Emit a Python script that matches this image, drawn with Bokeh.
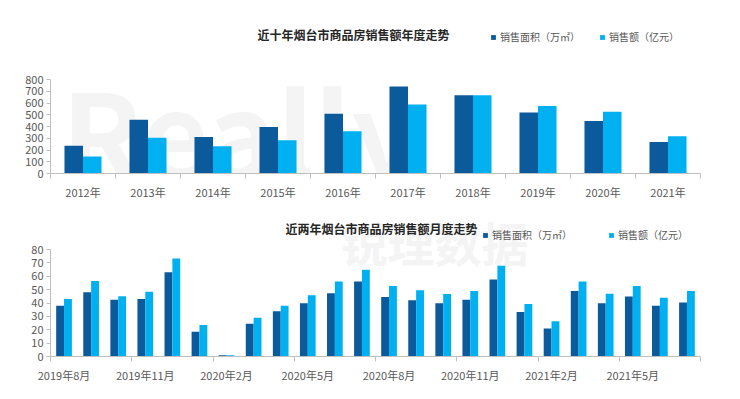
from bokeh.plotting import figure
from bokeh.models import ColumnDataSource, FixedTicker, Label, Legend, LegendItem, Range1d
from bokeh.layouts import column
from bokeh.embed import file_html
from bokeh.resources import INLINE
import numpy as np

# ---------------- data ----------------
years = ["2012年", "2013年", "2014年", "2015年", "2016年",
         "2017年", "2018年", "2019年", "2020年", "2021年"]
area_year = [237, 458, 310, 395, 509, 740, 667, 520, 446, 268]      # 销售面积（万㎡）
amount_year = [144, 305, 231, 282, 359, 588, 667, 574, 526, 316]    # 销售额（亿元）

months = ["2019年8月", "2019年9月", "2019年10月", "2019年11月", "2019年12月",
          "2020年1月", "2020年2月", "2020年3月", "2020年4月", "2020年5月",
          "2020年6月", "2020年7月", "2020年8月", "2020年9月", "2020年10月",
          "2020年11月", "2020年12月", "2021年1月", "2021年2月", "2021年3月",
          "2021年4月", "2021年5月", "2021年6月", "2021年7月"]
area_month = [38.0, 48.0, 42.5, 43.0, 63.0, 18.5, 1.0, 24.5, 33.8, 39.8, 47.3, 56.0,
              44.5, 42.0, 39.8, 42.5, 57.5, 33.3, 21.0, 49.0, 39.8, 44.8, 38.0, 40.3]
amount_month = [43.0, 56.5, 45.0, 48.5, 73.3, 23.5, 1.0, 29.0, 38.0, 45.8, 56.0, 64.8,
                52.8, 49.5, 46.8, 49.0, 67.8, 39.3, 26.3, 56.0, 47.0, 52.8, 44.0, 49.0]
month_label_step = 3

year_axis_max = 800
month_axis_max = 80

series_names = ["销售面积（万㎡）", "销售额（亿元）"]
title_year = "近十年烟台市商品房销售额年度走势"
title_month = "近两年烟台市商品房销售额月度走势"

# ---------------- style ----------------
DARK = "#0b5a9b"
LIGHT = "#00b0f0"
AXIS = "#bfbfbf"
TXT = "#595959"
FONT = "Noto Sans CJK SC"
WM = "#f4f4f4"


def style(p, ymax):
    p.xgrid.visible = False
    p.ygrid.visible = False
    p.outline_line_color = None
    for ax in (p.xaxis[0], p.yaxis[0]):
        ax.axis_line_color = AXIS
        ax.major_label_text_font = FONT
        ax.major_label_text_font_size = "11px"
        ax.major_label_text_color = TXT
    p.xaxis.major_tick_line_color = None
    p.xaxis.major_tick_out = 0
    p.xaxis.minor_tick_line_color = AXIS
    p.xaxis.minor_tick_out = 5
    p.xaxis.minor_tick_in = 0
    p.xaxis.major_label_standoff = 5
    p.yaxis.bounds = (0, ymax)
    p.yaxis.major_tick_line_color = AXIS
    p.yaxis.major_tick_out = 4
    p.yaxis.major_tick_in = 0
    p.yaxis.minor_tick_line_color = None
    p.yaxis.major_label_standoff = 3


# ---------------- top chart ----------------
# frame reaches above the value axis so the heading fits inside it
TOP_FRAME_H, TOP_PLOT_H = 164, 94
n1 = len(years)
src1 = ColumnDataSource(dict(
    xa=np.arange(n1) + 0.5 - 0.1425,
    xb=np.arange(n1) + 0.5 + 0.1425,
    area=area_year, amount=amount_year))

p1 = figure(width=738, height=207, x_range=Range1d(0, n1),
            y_range=Range1d(0, year_axis_max * TOP_FRAME_H / TOP_PLOT_H),
            output_backend="svg", toolbar_location=None,
            min_border_left=50, min_border_right=38, min_border_top=9, min_border_bottom=34)
p1.add_layout(Label(x=11, y=-40, x_units="screen", y_units="screen", text="Really",
                    text_font=FONT, text_font_size="118px", text_font_style="bold",
                    text_color=WM, level="underlay"))
r1a = p1.vbar(x="xa", top="area", width=0.285, source=src1, fill_color=DARK, line_color=None)
r1b = p1.vbar(x="xb", top="amount", width=0.285, source=src1, fill_color=LIGHT, line_color=None)
style(p1, year_axis_max)
p1.xaxis.ticker = FixedTicker(ticks=[i + 0.5 for i in range(n1)],
                              minor_ticks=list(range(n1 + 1)))
p1.xaxis.major_label_overrides = {i + 0.5: years[i] for i in range(n1)}
p1.yaxis.ticker = FixedTicker(ticks=list(range(0, year_axis_max + 1, 100)))

p1.add_layout(Label(x=303, y=139, x_units="screen", y_units="screen", text=title_year,
                    text_align="center", text_baseline="middle", text_font=FONT,
                    text_font_size="12px", text_font_style="bold", text_color="#262626"))
leg1 = Legend(items=[LegendItem(label=series_names[0], renderers=[r1a]),
                     LegendItem(label=series_names[1], renderers=[r1b])],
              orientation="horizontal", location=(440, 129),
              glyph_width=6, glyph_height=6, label_standoff=4, spacing=19,
              padding=0, margin=0, border_line_color=None, background_fill_alpha=0,
              label_text_font=FONT, label_text_font_size="10px", label_text_color=TXT,
              label_height=10)
p1.add_layout(leg1, "center")

# ---------------- bottom chart ----------------
BOT_FRAME_H, BOT_PLOT_H = 147, 107
n2 = len(months)
src2 = ColumnDataSource(dict(
    xa=np.arange(n2) + 0.5 - 0.145,
    xb=np.arange(n2) + 0.5 + 0.145,
    area=area_month, amount=amount_month))

p2 = figure(width=738, height=189, x_range=Range1d(0, n2),
            y_range=Range1d(0, month_axis_max * BOT_FRAME_H / BOT_PLOT_H),
            output_backend="svg", toolbar_location=None,
            min_border_left=49, min_border_right=36, min_border_top=2, min_border_bottom=40)
p2.add_layout(Label(x=290, y=115, x_units="screen", y_units="screen", text="锐理数据",
                    text_baseline="middle", text_font=FONT, text_font_size="47px",
                    text_font_style="bold", text_color=WM, level="underlay"))
r2a = p2.vbar(x="xa", top="area", width=0.29, source=src2, fill_color=DARK, line_color=None)
r2b = p2.vbar(x="xb", top="amount", width=0.29, source=src2, fill_color=LIGHT, line_color=None)
style(p2, month_axis_max)
lab_idx = list(range(0, n2, month_label_step))
p2.xaxis.ticker = FixedTicker(ticks=[i + 0.5 for i in lab_idx],
                              minor_ticks=list(range(0, n2 + 1, month_label_step)))
p2.xaxis.major_label_overrides = {i + 0.5: months[i] for i in lab_idx}
p2.yaxis.ticker = FixedTicker(ticks=list(range(0, month_axis_max + 1, 10)))

p2.add_layout(Label(x=331, y=128, x_units="screen", y_units="screen", text=title_month,
                    text_align="center", text_baseline="middle", text_font=FONT,
                    text_font_size="12px", text_font_style="bold", text_color="#262626"))
leg2 = Legend(items=[LegendItem(label=series_names[0], renderers=[r2a]),
                     LegendItem(label=series_names[1], renderers=[r2b])],
              orientation="horizontal", location=(432, 114),
              glyph_width=6, glyph_height=6, label_standoff=4, spacing=36,
              padding=0, margin=0, border_line_color=None, background_fill_alpha=0,
              label_text_font=FONT, label_text_font_size="10px", label_text_color=TXT,
              label_height=10)
p2.add_layout(leg2, "center")

layout = column(p1, p2, spacing=0)
open("out.html", "w").write(file_html(layout, INLINE))
